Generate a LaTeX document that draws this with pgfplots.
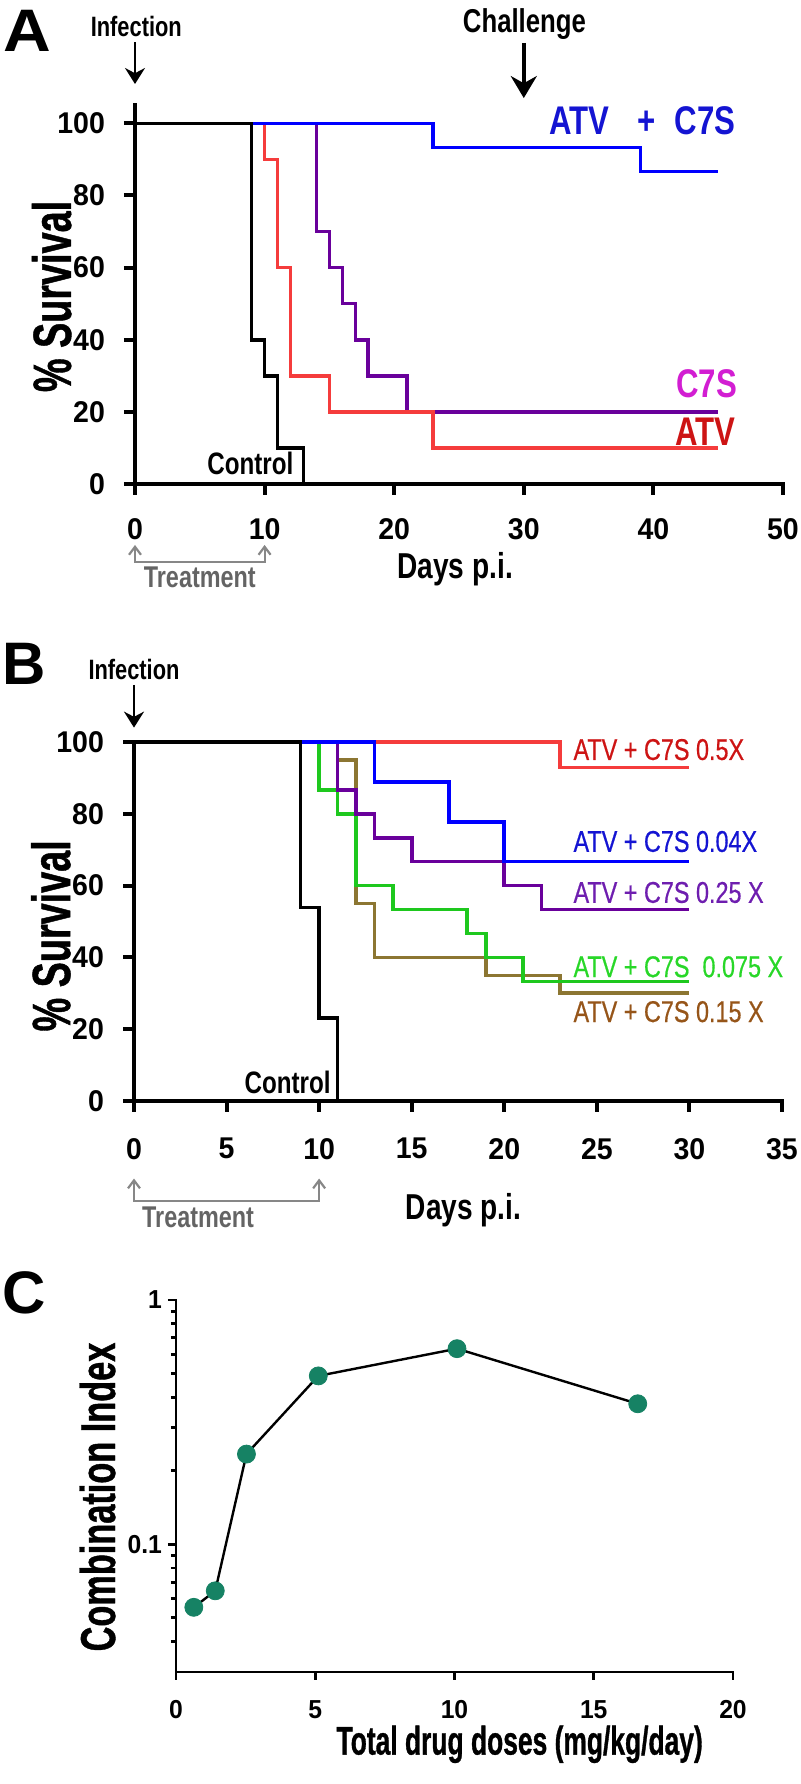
\documentclass[border=0pt]{standalone}
\usepackage{fontspec}
\setmainfont{Liberation Sans}
\newfontfamily\nfont{Liberation Sans}[FakeStretch=0.78]
\newfontfamily\hfont{Liberation Sans}[FakeStretch=0.7, BoldFeatures={FakeBold=0.8}]
\newfontfamily\cfont{Liberation Sans}[FakeStretch=0.66, BoldFeatures={FakeBold=0.8}]
\newfontfamily\lfont{Liberation Sans}[FakeStretch=0.78, FakeBold=0.5]
\newfontfamily\tfont{Liberation Sans}[FakeStretch=0.95]
\newfontfamily\wfont{Liberation Sans}[FakeStretch=1.1]
\usepackage{pgfplots}
\pgfplotsset{compat=1.18}
\usetikzlibrary{arrows.meta}
\newcommand{\fs}[1]{\fontsize{#1}{#1}\selectfont}

\definecolor{cBlue}{RGB}{0,0,255}
\definecolor{cBlueT}{RGB}{20,20,210}
\definecolor{cRed}{RGB}{245,60,60}
\definecolor{cRedT}{RGB}{205,20,20}
\definecolor{cPur}{RGB}{105,0,155}
\definecolor{cPurT}{RGB}{110,30,175}
\definecolor{cMag}{RGB}{210,30,210}
\definecolor{cGrn}{RGB}{30,200,30}
\definecolor{cGrnT}{RGB}{40,215,40}
\definecolor{cOli}{RGB}{140,118,50}
\definecolor{cBrnT}{RGB}{150,85,25}
\definecolor{cGray}{RGB}{135,135,135}
\definecolor{cGrayT}{RGB}{100,100,100}
\definecolor{cTeal}{RGB}{22,130,100}

\pgfplotsset{
  surv/.style={
    scale only axis, axis lines*=left, clip=false,
    width=324pt,
    axis line style={line width=2pt, line cap=rect},
    tick style={black, line width=2pt},
    major tick length=5.5pt, tick align=outside,
    /pgf/number format/assume math mode=true,
    tick label style={font=\tfont\bfseries\fs{15}},
    yticklabel style={xshift=-6pt},
  },
  km/.style={const plot, line width=1.8pt, no marks},
}

\begin{document}
\begin{tikzpicture}
\path[use as bounding box] (0,0) rectangle (400pt,892pt);
\node[anchor=base west, inner sep=0pt, font=\wfont\bfseries\fs{30}] at (1.5pt,866pt) {A};
\node[anchor=base west, inner sep=0pt, font=\bfseries\fs{30}] at (1.25pt,549.5pt) {B};
\node[anchor=base west, inner sep=0pt, font=\bfseries\fs{30}] at (1.25pt,235pt) {C};

% ---------------- Panel A ----------------
\begin{axis}[surv, at={(67.5pt,650pt)}, anchor=south west, height=189.35pt,
  xmin=0, xmax=50, ymin=0, ymax=105,
  xticklabel style={yshift=-8pt},
  xtick={0,10,20,30,40,50}, ytick={0,20,40,60,80,100}]
\addplot[km, cPur] coordinates {(0,100)(14,70)(15,60)(16,50)(17,40)(18,30)(21,20)(45,20)};
\addplot[km, cRed] coordinates {(0,100)(10,90)(11,60)(12,30)(15,20)(23,10)(45,10)};
\addplot[km, cBlue] coordinates {(0,100)(23,93.33)(39,86.67)(45,86.67)};
\addplot[km, black] coordinates {(0,100)(9,40)(10,30)(11,10)(13,0)};

\node[anchor=base, font=\nfont\bfseries\fs{14}] at (axis cs:0.1,124.2) {Infection};
\draw[line width=1.1pt, -{Stealth[length=8pt,width=10pt]}] (axis cs:0,122.5) -- (axis cs:0,110.9);
\node[anchor=base, font=\nfont\bfseries\fs{16.5}] at (axis cs:30.05,125.2) {Challenge};
\draw[line width=1.8pt, -{Stealth[length=11pt,width=13pt]}] (axis cs:30,122.3) -- (axis cs:30,107.0);

\draw[cGray, line width=1.1pt, {Straight Barb[length=4pt,width=6pt]}-{Straight Barb[length=4pt,width=6pt]}]
  (axis cs:0,-16.9) -- (axis cs:0,-21.6) -- (axis cs:10,-21.6) -- (axis cs:10,-16.9);
\node[anchor=base, cGrayT, font=\nfont\bfseries\fs{15}] at (axis cs:5.0,-28.8) {Treatment};
\node[anchor=base, font=\nfont\bfseries\fs{18}] at (axis cs:24.7,-26.3) {Days p.i.};

\node[anchor=base, font=\nfont\bfseries\fs{15.5}] at (axis cs:8.9,2.5) {Control};
\node[anchor=base, cBlueT, font=\nfont\bfseries\fs{20}] at (axis cs:34.3,96.8) {ATV};
\node[anchor=base, cBlueT, font=\nfont\bfseries\fs{20}] at (axis cs:39.5,96.8) {+};
\node[anchor=base, cBlueT, font=\nfont\bfseries\fs{20}] at (axis cs:44.0,96.8) {C7S};
\node[anchor=base, cMag, font=\nfont\bfseries\fs{20}] at (axis cs:44.1,24.1) {C7S};
\node[anchor=base, cRedT, font=\nfont\bfseries\fs{20}] at (axis cs:44.0,10.8) {ATV};

\node[rotate=90, anchor=base, inner sep=0pt, font=\hfont\bfseries\fs{27}] at (axis cs:-4.94,52) {\% Survival};
\end{axis}

% ---------------- Panel B ----------------
\begin{axis}[surv, at={(67pt,341.5pt)}, anchor=south west, height=179.5pt,
  xmin=0, xmax=35, ymin=0, ymax=100,
  xticklabel style={yshift=-9.5pt},
  xtick={0,5,10,15,20,25,30,35}, ytick={0,20,40,60,80,100}]
\addplot[km, cOli] coordinates {(0,100)(11,95)(12,55)(13,40)(19,35)(23,30)(30,30)};
\addplot[km, cGrn] coordinates {(0,100)(10,86.67)(11,80)(12,60)(14,53.33)(18,46.67)(19,40)(21,33.33)(30,33.33)};
\addplot[km, cPur] coordinates {(0,100)(11,86.67)(12,80)(13,73.33)(15,66.67)(20,60)(22,53.33)(30,53.33)};
\addplot[km, cRed] coordinates {(0,100)(23,92.86)(30,92.86)};
\addplot[km, cBlue] coordinates {(0,100)(13,88.89)(17,77.78)(20,66.67)(30,66.67)};
\addplot[km, black] coordinates {(0,100)(9,53.85)(10,23.08)(11,0)};

\node[anchor=base, font=\nfont\bfseries\fs{14}] at (axis cs:0,117.5) {Infection};
\draw[line width=1.1pt, -{Stealth[length=8pt,width=10pt]}] (axis cs:0,115.9) -- (axis cs:0,104.0);

\draw[cGray, line width=1.1pt, {Straight Barb[length=4pt,width=6pt]}-{Straight Barb[length=4pt,width=6pt]}]
  (axis cs:0,-21.6) -- (axis cs:0,-27.9) -- (axis cs:10,-27.9) -- (axis cs:10,-21.6);
\node[anchor=base, cGrayT, font=\nfont\bfseries\fs{15}] at (axis cs:3.46,-35.1) {Treatment};
\node[anchor=base, font=\nfont\bfseries\fs{18}] at (axis cs:17.8,-33.1) {Days p.i.};

\node[anchor=base, font=\nfont\bfseries\fs{15.5}] at (axis cs:8.3,2.2) {Control};
\node[anchor=base west, inner sep=0pt, cRedT, font=\lfont\fs{15}] at (axis cs:23.72,95.0) {ATV + C7S 0.5X};
\node[anchor=base west, inner sep=0pt, cBlueT, font=\lfont\fs{15}] at (axis cs:23.72,69.4) {ATV + C7S 0.04X};
\node[anchor=base west, inner sep=0pt, cPurT, font=\lfont\fs{15}] at (axis cs:23.72,55.2) {ATV + C7S 0.25 X};
\node[anchor=base west, inner sep=0pt, cGrnT, font=\lfont\fs{15}] at (axis cs:23.72,34.5) {ATV + C7S\ \ 0.075 X};
\node[anchor=base west, inner sep=0pt, cBrnT, font=\lfont\fs{15}] at (axis cs:23.72,22.0) {ATV + C7S 0.15 X};

\node[rotate=90, anchor=base, inner sep=0pt, font=\hfont\bfseries\fs{27}] at (axis cs:-3.45,46) {\% Survival};
\end{axis}

% ---------------- Panel C ----------------
\begin{axis}[scale only axis, at={(88pt,56pt)}, anchor=south west,
  width=278.5pt, height=186pt, ymode=log,
  xmin=0, xmax=20, ymin=0.03, ymax=1,
  axis lines*=left, clip=false,
  axis line style={line width=1.4pt, line cap=rect},
  tick style={black, line width=1.4pt},
  major tick length=4pt, minor tick length=2.5pt, tick align=outside,
  xtick={0,5,10,15,20}, ytick={0.1,1}, yticklabels={0.1,1},
  minor ytick={0.04,0.05,0.06,0.07,0.08,0.09,0.2,0.3,0.4,0.5,0.6,0.7,0.8,0.9},
  /pgf/number format/assume math mode=true,
  tick label style={font=\tfont\bfseries\fs{13}},
  xticklabel style={inner sep=1pt, yshift=-9pt},
  yticklabel style={xshift=0.5pt}]
\addplot[black, line width=1.2pt, mark=*, mark size=4.5pt,
  mark options={fill=cTeal, draw=cTeal, line width=0.4pt}]
  coordinates {(0.64,0.0552)(1.41,0.0645)(2.53,0.234)(5.11,0.489)(10.09,0.632)(16.58,0.376)};
\node[rotate=90, anchor=base, inner sep=0pt, font=\hfont\bfseries\fs{24.5}] at (rel axis cs:-0.1095,0.4704) {Combination Index};
\node[anchor=base, inner sep=0pt, font=\cfont\bfseries\fs{20}] at (rel axis cs:0.617,-0.222) {Total drug doses (mg/kg/day)};
\end{axis}
\end{tikzpicture}
\end{document}
